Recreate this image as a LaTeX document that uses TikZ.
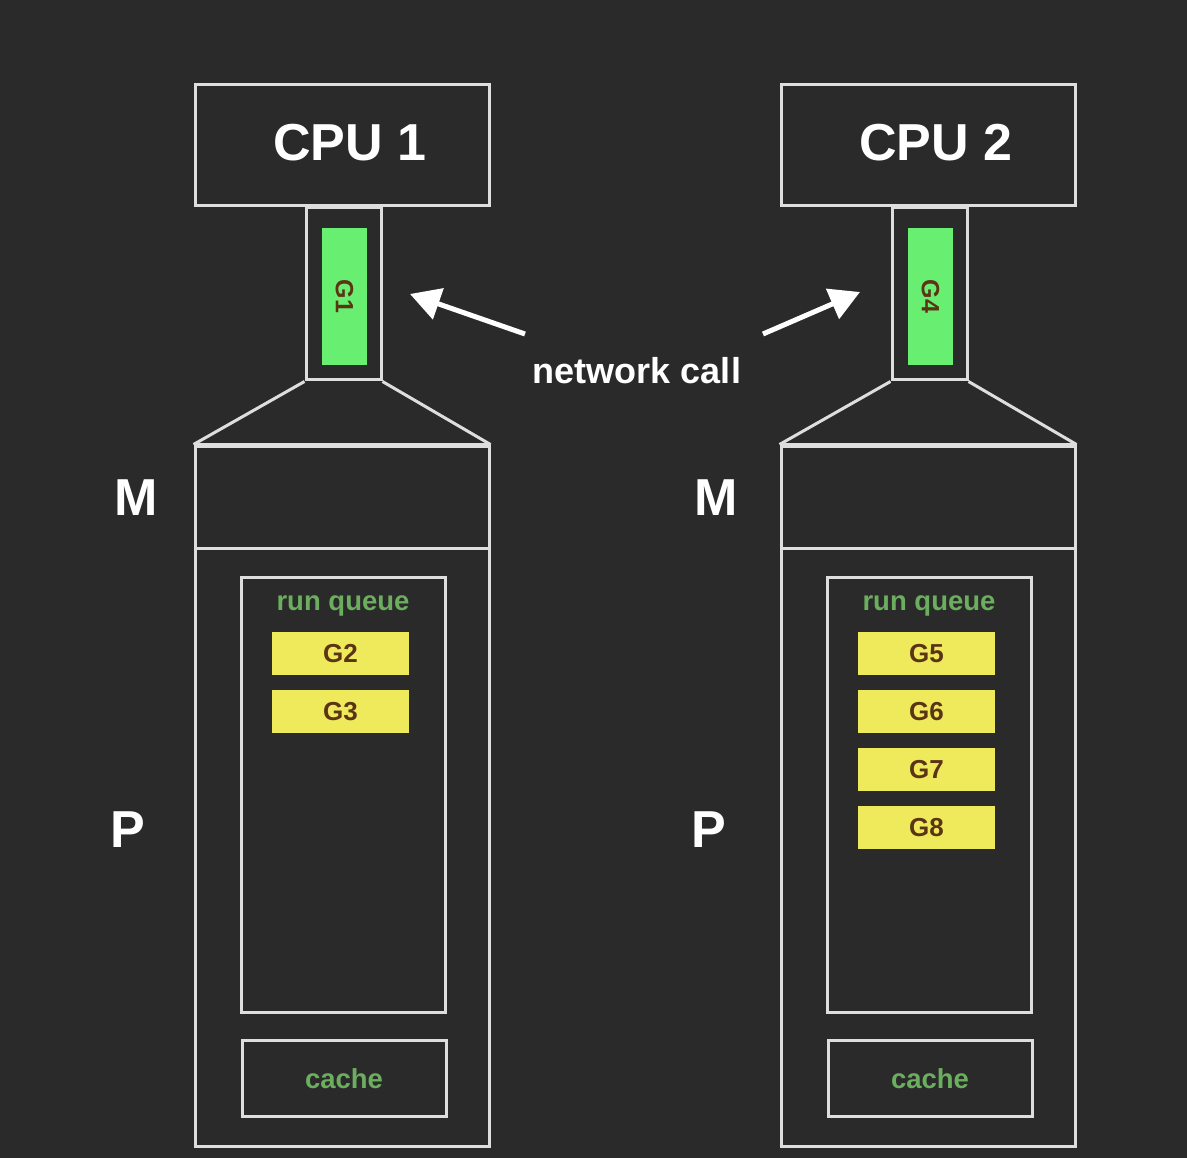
\documentclass[tikz,border=0pt]{standalone}
\usepackage{fontspec}
\setmainfont{Liberation Sans}
\usetikzlibrary{arrows.meta}
\definecolor{bg}{HTML}{2A2A2A}
\definecolor{linegray}{HTML}{DEDEDE}
\definecolor{ggreen}{HTML}{68EE70}
\definecolor{gyellow}{HTML}{EEEA5C}
\definecolor{gbrown}{HTML}{5A3414}
\definecolor{qgreen}{HTML}{6AAE5E}
\begin{document}
\begin{tikzpicture}[x=1pt,y=-1pt,
  wire/.style={draw=linegray, line width=3pt},
  box/.style={wire, rectangle, inner sep=0pt},
  bigtext/.style={text=white, font=\fontsize{52}{52}\selectfont\bfseries},
  gtask/.style={rectangle, fill=gyellow, inner sep=0pt, minimum width=137, minimum height=43,
     text=gbrown, font=\fontsize{26}{26}\selectfont\bfseries},
  grun/.style={rectangle, fill=ggreen, inner sep=0pt, rotate=-90, minimum width=137, minimum height=45,
     text=gbrown, font=\fontsize{25}{25}\selectfont\bfseries},
  qlabel/.style={text=qgreen, font=\fontsize{27.5}{27.5}\selectfont\bfseries, inner sep=0pt},
  callarrow/.style={draw=white, line width=5pt, -{Triangle[width=32pt,length=30pt]}},
]
\fill[bg] (0,0) rectangle (1187,1158);
\useasboundingbox (0,0) rectangle (1187,1158);

\foreach \i/\dx/\mx/\px/\gr in {1/0/136/128/G1, 2/586/130/123/G4}{
  \begin{scope}[xshift=\dx]
  \node[box, minimum width=294, minimum height=121] (cpu\i) at (342,145.5) {};
  \node[bigtext, inner sep=0pt] (cpulabel\i) at (350,143) {CPU \i};
  \node[box, minimum width=75, minimum height=172] (neck\i) at (343.5,294) {};
  \node[grun] (grun\i) at (344.5,296.5) {\gr};
  \node[box, minimum width=294, minimum height=102] (mbox\i) at (342,497) {};
  \node[box, minimum width=294, minimum height=598] (pbox\i) at (342,847) {};
  \draw[wire, line join=round] (neck\i.south west) -- (mbox\i.north west);
  \draw[wire, line join=round] (neck\i.south east) -- (mbox\i.north east);
  \draw[wire] (mbox\i.north west) -- (mbox\i.north east);
  \node[box, minimum width=204, minimum height=435] (rq\i) at (343,794.5) {};
  \node[qlabel, anchor=base] (rqlabel\i) at (343,610) {run queue};
  \node[box, minimum width=204, minimum height=76] (cache\i) at (344,1078) {};
  \node[qlabel, anchor=base] (cachelabel\i) at (344,1088) {cache};
  \node[bigtext, inner sep=0pt] (mlabel\i) at (\mx,498) {M};
  \node[bigtext, inner sep=0pt] (plabel\i) at (\px,830) {P};
  \end{scope}
}
% run queue tasks
\node[gtask] (g2) at (340.5,653.5) {G2};
\node[gtask] (g3) at (340.5,711.5) {G3};
\node[gtask] (g5) at (926.5,653.5) {G5};
\node[gtask] (g6) at (926.5,711.5) {G6};
\node[gtask] (g7) at (926.5,769.5) {G7};
\node[gtask] (g8) at (926.5,827.5) {G8};

% network call
\node[text=white, font=\fontsize{36}{36}\selectfont\bfseries, inner sep=0pt] (net) at (637,371) {network call};
\coordinate (la) at (525,334);
\coordinate (lt) at (410,294);
\coordinate (ra) at (763,334);
\coordinate (rt) at (860,292);
\draw[callarrow] (la) -- (lt);
\draw[callarrow] (ra) -- (rt);
\end{tikzpicture}
\end{document}
